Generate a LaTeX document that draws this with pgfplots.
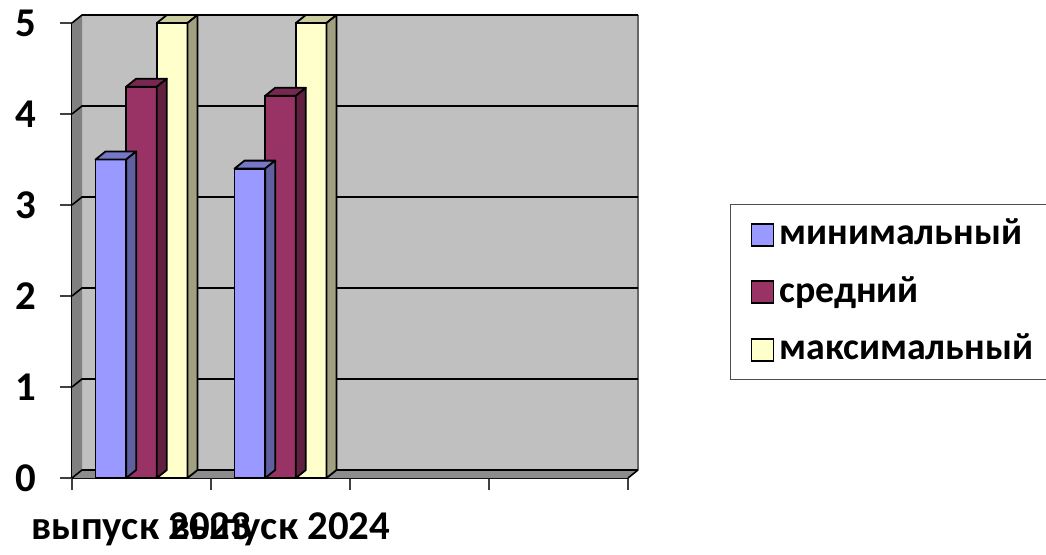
\documentclass[border=0pt]{standalone}
\usepackage{fontspec}
\setmainfont{Carlito}
\usepackage{pgfplots}
\usepackage{pgfplotstable}
\pgfplotsset{compat=1.18}

\definecolor{cmin}{HTML}{9999FF}
\definecolor{cavg}{HTML}{993366}
\definecolor{cmax}{HTML}{FFFFCC}
\definecolor{wall}{HTML}{C0C0C0}
\definecolor{sidewall}{HTML}{808080}
\definecolor{floorc}{HTML}{8C8C8C}

% results per graduating class
\pgfplotstableread{
x   min avg max
0.5 3.5 4.3 5
1.5 3.4 4.2 5
}\results

\pgfdeclareplotmark{none3d}{}

\pgfplotsset{
  front/.style={ybar, bar width=15.33bp, bar shift=#1bp, draw=black, line width=0.9bp},
  sq legend/.style={legend image code/.code={%
      \filldraw[##1, draw=black, line width=0.9bp] (0bp,-5.5bp) rectangle (11bp,5.5bp);}},
  % top and side faces of a bar: shift, column, top colour, side colour
  depth/.style n args={4}{%
    forget plot, only marks, scatter, mark=none3d,
    visualization depends on={\thisrow{#2} \as \bv},
    scatter/@pre marker code/.code={%
      \pgfmathsetlengthmacro\bh{\bv*45.5bp}%
      \filldraw[fill=#3, draw=black, line width=0.9bp, line join=round]
        (#1bp-7.665bp,0) -- ++(5bp,4bp) -- ++(15.33bp,0) -- ++(-5bp,-4bp) -- cycle;
      \filldraw[fill=#4, draw=black, line width=0.9bp, line join=round]
        (#1bp+7.665bp,0) -- ++(5bp,4bp) -- ++(0,-\bh) -- ++(-5bp,-4bp) -- cycle;
    },
    scatter/@post marker code/.code={},
  },
}

\begin{document}
\begin{tikzpicture}
\begin{axis}[
  name=ax,
  scale only axis, width=278bp, height=227.5bp,
  xmin=0, xmax=4, ymin=0, ymax=5,
  clip=false,
  axis x line*=bottom, axis y line*=left,
  axis line style={black, line width=0.9bp},
  xtick={0,...,4}, ytick={0,...,5},
  x tick label as interval,
  xticklabels={выпуск 2023, выпуск 2024, {}, {}},
  tick align=outside, major tick length=6bp,
  tick style={black!75, line width=0.6bp},
  /pgf/number format/assume math mode=true,
  tick label style={font=\fontsize{20.5}{24}\selectfont\bfseries},
  yticklabel style={xshift=-8.5bp},
  xticklabel style={yshift=-8bp},
  legend style={at={(1.1835,0.602)}, anchor=north west,
    draw=black!70, line width=0.6bp, fill=white,
    font=\fontsize{19}{23}\selectfont\bfseries,
    inner xsep=10bp, inner ysep=6bp, row sep=10.75bp,
    nodes={inner ysep=0bp, inner xsep=2.5bp, text height=14bp, text depth=4bp}},
  legend cell align=left,
]
% walls and floor
\fill[wall] ([shift={(5bp,4bp)}]axis cs:0,0) rectangle ([shift={(5bp,4bp)}]axis cs:4,5);
\fill[sidewall] (axis cs:0,0) -- ([shift={(5bp,4bp)}]axis cs:0,0)
  -- ([shift={(5bp,4bp)}]axis cs:0,5) -- (axis cs:0,5) -- cycle;
\fill[floorc] (axis cs:0,0) -- (axis cs:4,0)
  -- ([shift={(5bp,4bp)}]axis cs:4,0) -- ([shift={(5bp,4bp)}]axis cs:0,0) -- cycle;
\draw[black!60, line width=0.6bp] ([shift={(5bp,4bp)}]axis cs:4,0) -- ([shift={(5bp,4bp)}]axis cs:4,5);
\draw[black, line width=0.8bp] (axis cs:4,0) -- ([shift={(5bp,4bp)}]axis cs:4,0);
\pgfplotsinvokeforeach{0,...,5}{
  \draw[black, line width=0.8bp] (axis cs:0,#1) -- ([shift={(5bp,4bp)}]axis cs:0,#1)
    -- ([shift={(5bp,4bp)}]axis cs:4,#1);
}

\addplot[front=-15.33, fill=cmin, sq legend] table[x=x, y=min] {\results};
\addlegendentry{минимальный}
\addplot[depth={-15.33}{min}{cmin!78!black}{cmin!63!black}] table[x=x, y=min] {\results};

\addplot[front=0, fill=cavg, sq legend] table[x=x, y=avg] {\results};
\addlegendentry{средний}
\addplot[depth={0}{avg}{cavg!78!black}{cavg!63!black}] table[x=x, y=avg] {\results};

\addplot[front=15.33, fill=cmax, sq legend] table[x=x, y=max] {\results};
\addlegendentry{максимальный}
\addplot[depth={15.33}{max}{cmax!80!black}{cmax!63!black}] table[x=x, y=max] {\results};
\end{axis}
\pgfresetboundingbox
\path[use as bounding box] ([shift={(-36bp,-38.5bp)}]ax.south west)
  rectangle ([shift={(487bp,239bp)}]ax.south west);
\end{tikzpicture}
\end{document}
